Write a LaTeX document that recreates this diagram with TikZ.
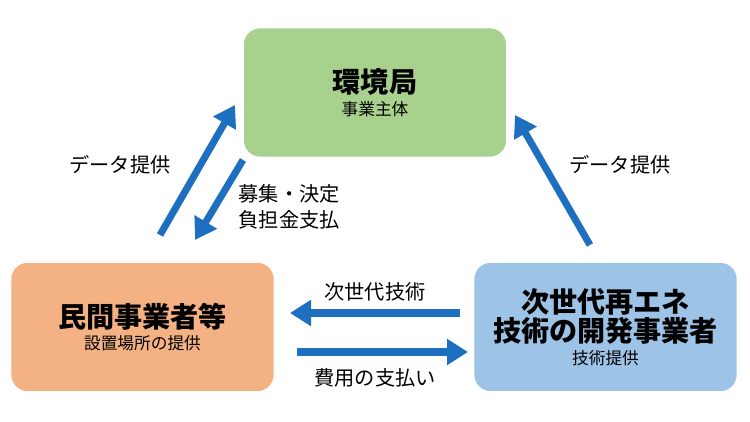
\documentclass[tikz,border=0pt]{standalone}
\usepackage{fontspec}
\setmainfont{Noto Sans CJK JP}
\usetikzlibrary{arrows.meta}
\definecolor{kgreen}{HTML}{A9D18E}
\definecolor{korange}{HTML}{F4B183}
\definecolor{kblue}{HTML}{9DC3E6}
\definecolor{karrow}{HTML}{1F6FC0}
\tikzset{
  box/.style={draw=white, line width=1.5pt, rounded corners=0.35cm, minimum width=5.3cm, minimum height=2.62cm, align=center},
  flow/.style={draw=karrow, line width=4pt, -{Triangle[length=0.42cm,width=0.5cm]}},
  lbl/.style={font=\fontsize{11.5}{15}\selectfont, align=left}
}
\begin{document}
\begin{tikzpicture}
\useasboundingbox (0,0) rectangle (15,8.44);
\node[box, fill=kgreen] (env) at (7.5,6.59) {{\fontsize{16}{21}\selectfont\bfseries 環境局}\\[1pt]{\fontsize{9.5}{12}\selectfont 事業主体}};
\node[box, fill=korange] (priv) at (2.85,1.9) {{\fontsize{16}{21}\selectfont\bfseries 民間事業者等}\\[1pt]{\fontsize{9.5}{12}\selectfont 設置場所の提供}};
\node[box, fill=kblue] (dev) at (12.11,1.9) {{\fontsize{16}{21}\selectfont\bfseries 次世代再エネ}\\{\fontsize{16}{21}\selectfont\bfseries 技術の開発事業者}\\[1pt]{\fontsize{9.5}{12}\selectfont 技術提供}};

\coordinate (a1) at (3.2,3.74);
\coordinate (a2) at (4.7,6.34);
\coordinate (b1) at (4.86,5.24);
\coordinate (b2) at (3.9,3.64);
\coordinate (c1) at (11.8,3.54);
\coordinate (c2) at (10.3,6.14);
\coordinate (d1) at (9.2,2.18);
\coordinate (d2) at (5.8,2.18);
\coordinate (e1) at (5.94,1.4);
\coordinate (e2) at (9.36,1.4);

\draw[flow] (a1) -- (a2);
\draw[flow] (b1) -- (b2);
\draw[flow] (c1) -- (c2);
\draw[flow] (d1) -- (d2);
\draw[flow] (e1) -- (e2);

\node[lbl] (l1) at (2.4,5.14) {データ提供};
\node[lbl, anchor=west] (l2) at (4.65,4.3) {募集・決定\\負担金支払};
\node[lbl] (l3) at (12.4,5.14) {データ提供};
\node[lbl] (l4) at (7.5,2.6) {次世代技術};
\node[lbl] (l5) at (7.5,0.88) {費用の支払い};
\end{tikzpicture}
\end{document}
